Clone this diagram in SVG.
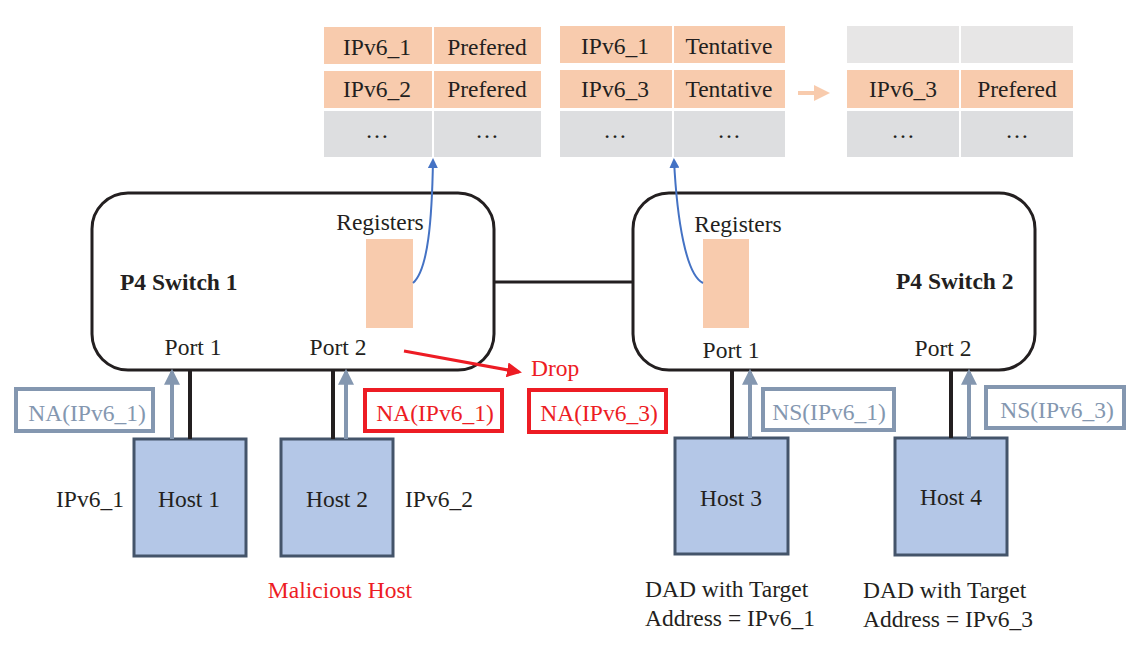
<svg xmlns="http://www.w3.org/2000/svg" width="1137" height="647" viewBox="0 0 1137 647">
<style>
text{font-family:'Liberation Serif',serif;font-size:23.5px;fill:#231f20}
.c{text-anchor:middle}
.b{font-weight:bold}
.red{fill:#ed1c24}
.gt{fill:#8497b0}
.pe{fill:#f8cbad}
.gr{fill:#dddee0}
.lg{fill:#e7e6e6}
.sw{fill:#fff;stroke:#231f20;stroke-width:3}
.host{fill:#b4c7e7;stroke:#44546a;stroke-width:3}
.wire{stroke:#231f20;stroke-width:4;fill:none}
.up{stroke:#8497b0;stroke-width:4;fill:none;marker-end:url(#ga)}
.gbox{fill:#fff;stroke:#8497b0;stroke-width:4}
.rbox{fill:#fff;stroke:#ed1c24;stroke-width:4}
.blue{stroke:#4472c4;stroke-width:2;fill:none;marker-end:url(#ba)}
</style>
<defs>
<marker id="ga" markerWidth="4" markerHeight="4" refX="3.2" refY="2" orient="auto" markerUnits="strokeWidth"><path d="M0,0 L4,2 L0,4 z" fill="#8497b0"/></marker>
<marker id="ba" markerWidth="5" markerHeight="5" refX="4" refY="2.5" orient="auto" markerUnits="strokeWidth"><path d="M0,0 L5,2.5 L0,5 z" fill="#4472c4"/></marker>
<marker id="ra" markerWidth="5" markerHeight="5" refX="4" refY="2.5" orient="auto" markerUnits="strokeWidth"><path d="M0,0 L5,2.5 L0,5 z" fill="#ed1c24"/></marker>
<marker id="pa" markerWidth="4" markerHeight="4" refX="3" refY="2" orient="auto" markerUnits="strokeWidth"><path d="M0,0 L4,2 L0,4 z" fill="#f8cbad"/></marker>
</defs>

<g id="table1">
<rect class="pe" x="324" y="27" width="108" height="37"/>
<rect class="pe" x="434" y="27" width="107" height="37"/>
<rect class="pe" x="324" y="71" width="108" height="37"/>
<rect class="pe" x="434" y="71" width="107" height="37"/>
<rect class="gr" x="324" y="111" width="108" height="46"/>
<rect class="gr" x="434" y="111" width="107" height="46"/>
<text font-family="Liberation Serif" class="c" x="377" y="55">IPv6_1</text>
<text font-family="Liberation Serif" class="c" x="487" y="55">Prefered</text>
<text font-family="Liberation Serif" class="c" x="377" y="97">IPv6_2</text>
<text font-family="Liberation Serif" class="c" x="487" y="97">Prefered</text>
<text font-family="Liberation Serif" class="c" x="377" y="138">…</text>
<text font-family="Liberation Serif" class="c" x="487" y="138">…</text>
</g>

<g id="table2">
<rect class="pe" x="560" y="26" width="112" height="37"/>
<rect class="pe" x="674" y="26" width="111" height="37"/>
<rect class="pe" x="560" y="70" width="112" height="38"/>
<rect class="pe" x="674" y="70" width="111" height="38"/>
<rect class="gr" x="560" y="111" width="112" height="46"/>
<rect class="gr" x="674" y="111" width="111" height="46"/>
<text font-family="Liberation Serif" class="c" x="615" y="54">IPv6_1</text>
<text font-family="Liberation Serif" class="c" x="729" y="54">Tentative</text>
<text font-family="Liberation Serif" class="c" x="615" y="97">IPv6_3</text>
<text font-family="Liberation Serif" class="c" x="729" y="97">Tentative</text>
<text font-family="Liberation Serif" class="c" x="615" y="138">…</text>
<text font-family="Liberation Serif" class="c" x="729" y="138">…</text>
</g>

<g id="table3">
<rect class="lg" x="847" y="26" width="112" height="37"/>
<rect class="lg" x="961" y="26" width="112" height="37"/>
<rect class="pe" x="847" y="70" width="112" height="38"/>
<rect class="pe" x="961" y="70" width="112" height="38"/>
<rect class="gr" x="847" y="111" width="112" height="46"/>
<rect class="gr" x="961" y="111" width="112" height="46"/>
<text font-family="Liberation Serif" class="c" x="903" y="97">IPv6_3</text>
<text font-family="Liberation Serif" class="c" x="1017" y="97">Prefered</text>
<text font-family="Liberation Serif" class="c" x="903" y="138">…</text>
<text font-family="Liberation Serif" class="c" x="1017" y="138">…</text>
</g>

<g id="switch1">
<rect class="sw" x="92" y="193" width="402" height="177" rx="36"/>
<rect class="pe" x="366" y="239" width="47" height="89"/>
<text font-family="Liberation Serif" class="c" x="380" y="230">Registers</text>
<text font-family="Liberation Serif" class="b" x="120" y="290">P4 Switch 1</text>
<text font-family="Liberation Serif" class="c" x="193" y="355">Port 1</text>
<text font-family="Liberation Serif" class="c" x="338" y="355">Port 2</text>
</g>

<g id="switch2">
<rect class="sw" x="633" y="193" width="402" height="177" rx="36"/>
<rect class="pe" x="703" y="239" width="46" height="89"/>
<text font-family="Liberation Serif" class="c" x="738" y="232">Registers</text>
<text font-family="Liberation Serif" class="b" x="896" y="289">P4 Switch 2</text>
<text font-family="Liberation Serif" class="c" x="731" y="358">Port 1</text>
<text font-family="Liberation Serif" class="c" x="943" y="356">Port 2</text>
</g>

<g id="host1">
<rect class="host" x="134" y="439" width="112" height="117"/>
<text font-family="Liberation Serif" class="c" x="189" y="507">Host 1</text>
<text font-family="Liberation Serif" x="56" y="507">IPv6_1</text>
</g>
<g id="host2">
<rect class="host" x="281" y="439" width="112" height="117"/>
<text font-family="Liberation Serif" class="c" x="337" y="507">Host 2</text>
<text font-family="Liberation Serif" x="405" y="507">IPv6_2</text>
<text font-family="Liberation Serif" class="c red" x="340" y="598">Malicious Host</text>
</g>
<g id="host3">
<rect class="host" x="675" y="438" width="113" height="116"/>
<text font-family="Liberation Serif" class="c" x="731" y="506">Host 3</text>
<text font-family="Liberation Serif" x="645" y="597">DAD with Target</text>
<text font-family="Liberation Serif" x="645" y="626">Address = IPv6_1</text>
</g>
<g id="host4">
<rect class="host" x="895" y="438" width="112" height="117"/>
<text font-family="Liberation Serif" class="c" x="951" y="505">Host 4</text>
<text font-family="Liberation Serif" x="863" y="598">DAD with Target</text>
<text font-family="Liberation Serif" x="863" y="627">Address = IPv6_3</text>
</g>

<g id="connectors">
<line class="wire" x1="494" y1="282" x2="633" y2="282" style="stroke-width:3"/>
<line class="wire" x1="190" y1="370" x2="190" y2="439"/>
<line class="wire" x1="333" y1="370" x2="333" y2="439"/>
<line class="wire" x1="732" y1="370" x2="732" y2="438"/>
<line class="wire" x1="951" y1="370" x2="951" y2="438"/>
<line class="up" x1="172" y1="439" x2="172" y2="372"/>
<line class="up" x1="346" y1="439" x2="346" y2="372"/>
<line class="up" x1="750" y1="438" x2="750" y2="372"/>
<line class="up" x1="969" y1="438" x2="969" y2="372"/>
<path class="blue" d="M413,283 C428,270 432,220 433,160"/>
<path class="blue" d="M703,283 C686,275 677,220 674,160"/>
<line x1="404" y1="351" x2="519" y2="372" stroke="#ed1c24" stroke-width="3" marker-end="url(#ra)"/>
<line x1="798" y1="93" x2="826" y2="93" stroke="#f8cbad" stroke-width="4" marker-end="url(#pa)"/>
</g>

<g id="labels">
<rect class="gbox" x="16" y="389" width="137" height="42"/>
<text font-family="Liberation Serif" class="gt c" x="87" y="421">NA(IPv6_1)</text>
<rect class="rbox" x="365" y="390" width="137" height="41"/>
<text font-family="Liberation Serif" class="red c" x="435" y="421">NA(IPv6_1)</text>
<text font-family="Liberation Serif" class="red" x="531" y="376">Drop</text>
<rect class="rbox" x="529" y="390" width="137" height="42"/>
<text font-family="Liberation Serif" class="red c" x="599" y="421">NA(IPv6_3)</text>
<rect class="gbox" x="763" y="389" width="131" height="41"/>
<text font-family="Liberation Serif" class="gt c" x="829" y="420">NS(IPv6_1)</text>
<rect class="gbox" x="986" y="387" width="138" height="41"/>
<text font-family="Liberation Serif" class="gt c" x="1057" y="418">NS(IPv6_3)</text>
</g>
</svg>
